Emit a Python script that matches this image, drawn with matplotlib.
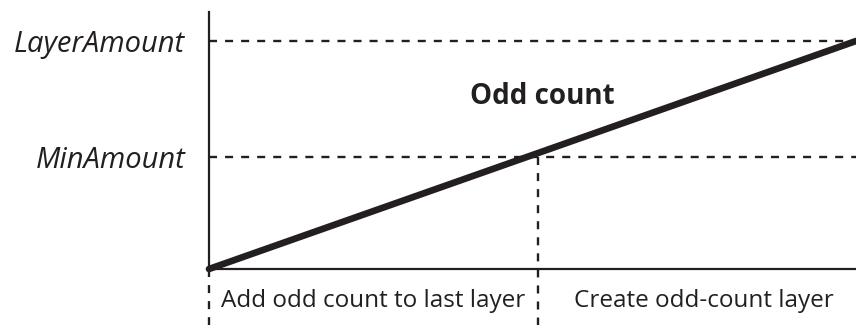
import matplotlib
matplotlib.use("Agg")
import matplotlib.pyplot as plt

# Threshold levels on the vertical axis
level_names = ["MinAmount", "LayerAmount"]
level_values = [0.49, 1.0]

# Linear growth of the amount
line_x = [0.0, 1.0]
line_y = [0.0, 1.0]

# Regions along the horizontal axis
region_names = ["Add odd count to last layer", "Create odd-count layer"]
region_split = 0.508
region_centers = [0.254, 0.765]

title_text = "Odd count"

ink = "#231f20"
plt.rcParams["font.family"] = ["Open Sans", "DejaVu Sans"]

fig = plt.figure(figsize=(8.56, 3.25), dpi=100)
W, H = 856, 325
x0, y0, x1 = 209, 269, 856
ytop_px, yone_px = 12, 41
ax = fig.add_axes([x0 / W, (H - y0) / H, (x1 - x0) / W, (y0 - ytop_px) / H])
ymax = (y0 - ytop_px) / (y0 - yone_px)
ax.set_xlim(0, 1)
ax.set_ylim(0, ymax)

for s in ["top", "right"]:
    ax.spines[s].set_visible(False)
for s in ["left", "bottom"]:
    ax.spines[s].set_color(ink)
    ax.spines[s].set_linewidth(1.6)

ax.set_xticks([])
ax.set_yticks(level_values)
ax.set_yticklabels(level_names, fontsize=21, style="italic", color=ink)
ax.tick_params(axis="y", length=0, pad=17)

dash = (0, (3.4, 3.4))
for v in level_values:
    ax.plot([0, 1], [v, v], color=ink, lw=1.7, linestyle=dash, clip_on=False)

ybot = -(H - y0) / (y0 - yone_px)
split_y = min(level_values)
ax.plot([region_split, region_split], [split_y, ybot], color=ink, lw=1.7,
        linestyle=dash, clip_on=False)
ax.plot([0, 0], [0, ybot], color=ink, lw=1.7, linestyle=dash, clip_on=False)

ax.plot(line_x, line_y, color=ink, lw=4.8, solid_capstyle="round", clip_on=False, zorder=5)

ax.text(0.515, 0.758, title_text, fontsize=20, fontweight="bold", color=ink,
        ha="center", va="center")

label_y = -(307 - y0) / (y0 - yone_px)
for name, cx in zip(region_names, region_centers):
    ax.text(cx, label_y, name, fontsize=17.5, color=ink, ha="center", va="baseline",
            clip_on=False)

fig.savefig("out.png", dpi=100)
